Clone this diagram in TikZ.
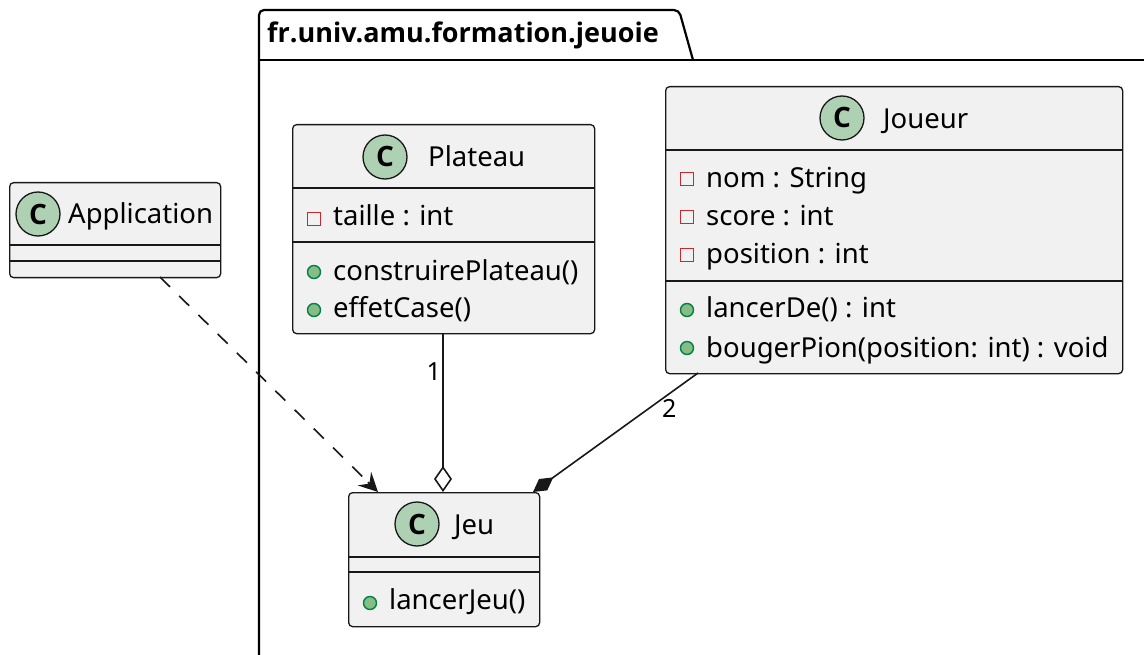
\documentclass[tikz,border=0pt]{standalone}
\usepackage{fontspec}
\setmainfont{Noto Sans}
\newfontfamily\boldfam{Open Sans Bold}
\usetikzlibrary{arrows.meta,calc}
\definecolor{boxfill}{HTML}{F1F1F1}
\definecolor{boxline}{HTML}{181818}
\definecolor{cfill}{HTML}{ADD1B2}
\definecolor{privred}{HTML}{C82930}
\definecolor{pubfill}{HTML}{84BE84}
\definecolor{publine}{HTML}{038048}
\begin{document}
\begin{tikzpicture}[x=1pt,y=-1pt,
  classbox/.style={draw=boxline, fill=boxfill, line width=1.3pt, rounded corners=4pt, inner sep=0pt, anchor=north west},
  cicon/.style={circle, draw=boxline, fill=cfill, line width=1.3pt, minimum size=44pt, inner sep=0pt, font=\boldfam\fontsize{28}{28}\selectfont},
  txt/.style={inner sep=0pt, anchor=base west, font=\fontsize{27.5}{33}\selectfont},
  lbl/.style={inner sep=0pt, font=\fontsize{25}{30}\selectfont},
  sepline/.style={draw=boxline, line width=1.1pt},
  privsq/.style={rectangle, draw=privred, line width=1.4pt, minimum size=13pt, inner sep=0pt},
  pubdot/.style={circle, draw=publine, fill=pubfill, line width=1.4pt, minimum size=13pt, inner sep=0pt},
  conn/.style={draw=boxline, line width=1.6pt}]
\useasboundingbox (0,0) rectangle (1144,655);
\clip (0,0) rectangle (1144,655);
\fill[white] (0,0) rectangle (1144,655);

% package
\draw[line width=2.2pt, rounded corners=5pt] (259,700) -- (259,10) -- (679,10) -- (693,60);
\draw[line width=2.2pt] (259,60) -- (1200,60);
\node[inner sep=0pt, anchor=base west, font=\boldfam\fontsize{27}{32}\selectfont] (pkg) at (267,43) {fr.univ.amu.formation.jeuoie};

% Application
\node[classbox, minimum width=211pt, minimum height=95pt] (app) at (9,182) {};
\node[cicon] (appC) at (38,214) {C};
\node[txt] (appT) at (68,224) {Application};
\draw[sepline] (9,245) -- (220,245);
\draw[sepline] (9,261) -- (220,261);

% Plateau
\node[classbox, minimum width=302pt, minimum height=209pt] (plat) at (292,124) {};
\node[cicon] (platC) at (385,157) {C};
\node[txt] (platT) at (428,167) {Plateau};
\draw[sepline] (292,188) -- (594,188);
\node[privsq] (p1m) at (314,219) {};
\node[txt] (p1) at (333,226) {taille : int};
\draw[sepline] (292,242) -- (594,242);
\node[pubdot] (p2m) at (314,272) {};
\node[txt] (p2) at (333,280) {construirePlateau()};
\node[pubdot] (p3m) at (314,310) {};
\node[txt] (p3) at (333,318) {effetCase()};

% Joueur
\node[classbox, minimum width=457pt, minimum height=287pt] (jou) at (665,86) {};
\node[cicon] (jouC) at (842,118) {C};
\node[txt] (jouT) at (883,129) {Joueur};
\draw[sepline] (665,150) -- (1122,150);
\node[privsq] (j1m) at (687,179) {};
\node[txt] (j1) at (706,188) {nom : String};
\node[privsq] (j2m) at (687,217) {};
\node[txt] (j2) at (706,226) {score : int};
\node[privsq] (j3m) at (687,255) {};
\node[txt] (j3) at (706,264) {position : int};
\draw[sepline] (665,281) -- (1122,281);
\node[pubdot] (j4m) at (687,310) {};
\node[txt] (j4) at (706,318) {lancerDe() : int};
\node[pubdot] (j5m) at (687,348) {};
\node[txt] (j5) at (706,357) {bougerPion(position: int) : void};

% Jeu
\node[classbox, minimum width=191pt, minimum height=134pt] (jeu) at (348,492) {};
\node[cicon] (jeuC) at (417,524) {C};
\node[txt] (jeuT) at (454,534) {Jeu};
\draw[sepline] (348,557) -- (539,557);
\draw[sepline] (348,572) -- (539,572);
\node[pubdot] (g1m) at (370,603) {};
\node[txt] (g1) at (389,609) {lancerJeu()};

% connector anchor points
\coordinate (appout) at (160,277);
\coordinate (jeuin1) at (378,492);
\coordinate (platout) at (443,334);
\coordinate (jeuin2) at (443,492);
\coordinate (jouout) at (698,373);
\coordinate (jeuin3) at (533,492);

\draw[conn, dash pattern=on 14pt off 13pt, shorten >=10pt] (appout) -- (jeuin1);
\draw[conn, -{Stealth[length=19pt,width=19pt,inset=7pt]}] ($(jeuin1)!14pt!(appout)$) -- (jeuin1);
\draw[conn, {Diamond[open,length=26pt,width=18pt,fill=white]}-] (jeuin2) -- (platout);
\draw[conn, {Diamond[length=25pt,width=14pt]}-] (jeuin3) -- (jouout);

\node[lbl, anchor=base east] (l1) at (441,380) {1};
\node[lbl, anchor=base west] (l2) at (662,417) {2};
\end{tikzpicture}
\end{document}
